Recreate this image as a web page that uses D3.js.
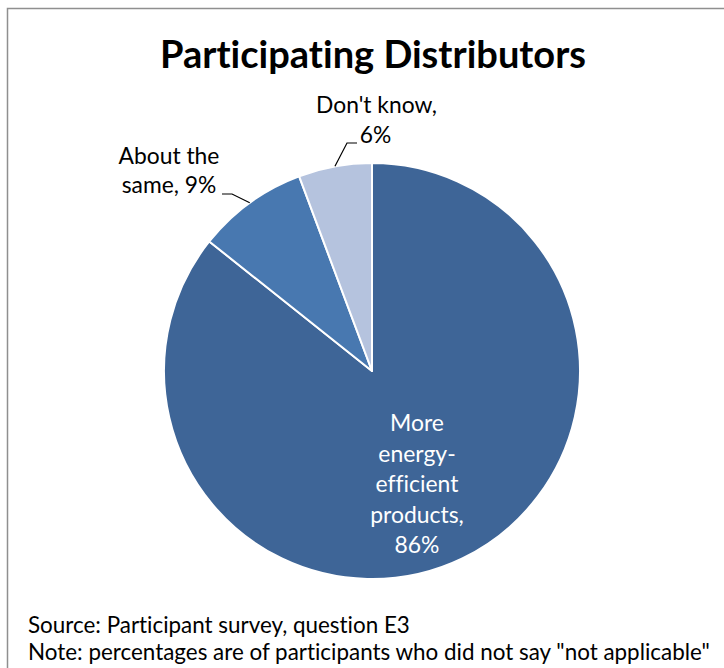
<!DOCTYPE html>
<html>
<head>
<meta charset="utf-8">
<script src="https://cdn.jsdelivr.net/npm/d3@7"></script>
<style>
  html, body { margin: 0; padding: 0; background: #fff; }
  svg { display: block; }
  text { font-family: Lato, "Open Sans", sans-serif; font-variant-ligatures: none; font-feature-settings: "liga" 0, "clig" 0; }
</style>
</head>
<body>
<svg id="chart" width="724" height="668"></svg>
<script>
// ---- data ----
const categories = ["More energy-efficient products", "About the same", "Don't know"];
const values = [85.7, 8.6, 5.7];
const colors = ["#3e6597", "#4878b0", "#b5c3de"];
const labelLines = [
  ["More", "energy-", "efficient", "products,", "86%"],
  ["About the", "same, 9%"],
  ["Don't know,", "6%"]
];
const titleText = "Participating Distributors";
const footnotes = [
  "Source: Participant survey, question E3",
  "Note: percentages are of participants who did not say \"not applicable\""
];

// ---- layout ----
const W = 724, H = 668;
const cx = 372, cy = 371, R = 208;
const svg = d3.select("#chart");

// frame
svg.append("path")
  .attr("d", `M7.5,${H} L7.5,8.5 L${W},8.5`)
  .attr("fill", "none").attr("stroke", "#8f8f8f").attr("stroke-width", 1.5);

// helper: fit text to a target width by adjusting font-size
function fit(sel, width) {
  const node = sel.node();
  const fs = parseFloat(sel.attr("font-size"));
  const w = node.getComputedTextLength();
  sel.attr("font-size", (fs * width / w).toFixed(2));
  return sel;
}

// title
const title = svg.append("text")
  .attr("x", 373).attr("y", 68)
  .attr("text-anchor", "middle")
  .attr("font-weight", "bold").attr("font-size", 32).attr("fill", "#000")
  .text(titleText);
fit(title, 426);

// pie
const pie = d3.pie().sort(null).value(d => d);
const arcs = pie(values);
const arc = d3.arc().innerRadius(0).outerRadius(R);
const g = svg.append("g").attr("transform", `translate(${cx},${cy})`);
g.selectAll("path.slice").data(arcs).enter().append("path")
  .attr("class", "slice")
  .attr("d", arc)
  .attr("fill", (d, i) => colors[i])
  .attr("stroke", "#fff").attr("stroke-width", 2).attr("stroke-linejoin", "round");

// point on outer edge at slice mid-angle
function edgePoint(d) {
  const a = (d.startAngle + d.endAngle) / 2;
  return [cx + R * Math.sin(a), cy - R * Math.cos(a)];
}

// inner label (slice 0)
const inner = svg.append("text")
  .attr("text-anchor", "middle").attr("fill", "#fff").attr("font-size", 21);
const innerBase = [431, 462, 492, 523, 553];
labelLines[0].forEach((t, i) => {
  inner.append("tspan").attr("x", 417).attr("y", innerBase[i]).text(t);
});
(function () {
  const probe = svg.append("text").attr("font-size", 21).text(labelLines[0][2]);
  const w = probe.node().getComputedTextLength();
  probe.remove();
  inner.attr("font-size", (21 * 83 / w).toFixed(2));
})();

// outside labels
const extSize = (function () {
  const probe = svg.append("text").attr("font-size", 21).text(labelLines[2][0]);
  const w = probe.node().getComputedTextLength();
  probe.remove();
  return 21 * 121 / w;
})();

// About the same
const p1 = edgePoint(arcs[1]);
svg.append("polyline")
  .attr("points", [p1, [232, 194], [222, 194]].map(p => p.join(",")).join(" "))
  .attr("fill", "none").attr("stroke", "#000").attr("stroke-width", 1.2);
const t1 = svg.append("text").attr("text-anchor", "middle").attr("font-size", extSize).attr("fill", "#000");
t1.append("tspan").attr("x", 169).attr("y", 164).text(labelLines[1][0]);
t1.append("tspan").attr("x", 169).attr("y", 193).text(labelLines[1][1]);

// Don't know
const p2 = edgePoint(arcs[2]);
svg.append("polyline")
  .attr("points", [p2, [347, 143], [357, 143]].map(p => p.join(",")).join(" "))
  .attr("fill", "none").attr("stroke", "#000").attr("stroke-width", 1.2);
const t2 = svg.append("text").attr("text-anchor", "middle").attr("font-size", extSize).attr("fill", "#000");
t2.append("tspan").attr("x", 376.5).attr("y", 113).text(labelLines[2][0]);
t2.append("tspan").attr("x", 375.5).attr("y", 143).text(labelLines[2][1]);

// footnotes
const f0 = svg.append("text").attr("x", 28).attr("y", 633).attr("font-size", 20).attr("fill", "#000").text(footnotes[0]);
const f1 = svg.append("text").attr("x", 28).attr("y", 660).attr("font-size", 20).attr("fill", "#000").text(footnotes[1]);
fit(f1, 682);
f0.attr("font-size", f1.attr("font-size"));
</script>
</body>
</html>
